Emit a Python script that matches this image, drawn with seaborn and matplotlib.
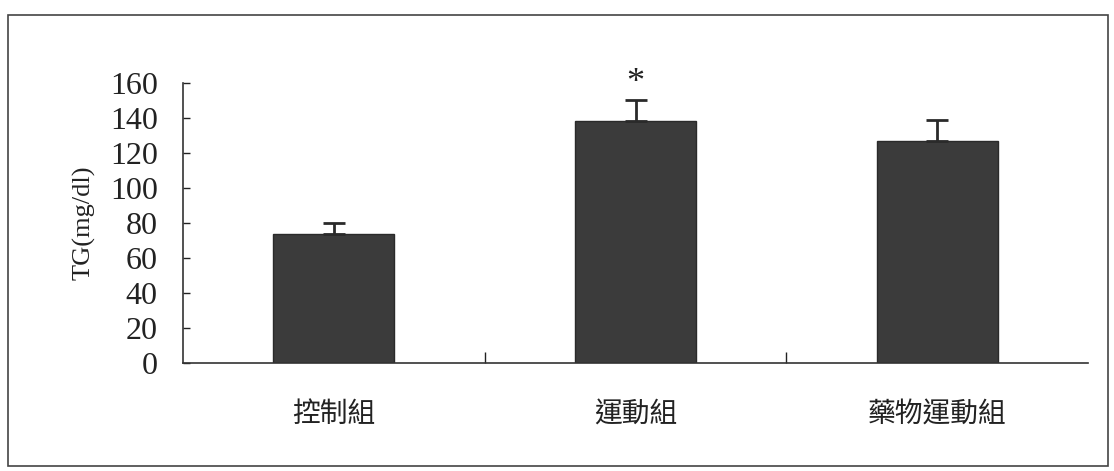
import matplotlib
matplotlib.use("Agg")
import matplotlib.pyplot as plt
import seaborn as sns
import pandas as pd
from matplotlib.patches import Rectangle

groups = ["控制組", "運動組", "藥物運動組"]
tg_mean = [74, 138, 127]
tg_err = [6, 12, 12]
sig_marks = ["", "*", ""]
y_ticks = [0, 20, 40, 60, 80, 100, 120, 140, 160]

sns.set_theme(style="white")
plt.rcParams["font.family"] = ["Liberation Serif", "Noto Sans CJK TC", "DejaVu Sans"]

df = pd.DataFrame({"group": groups, "tg": tg_mean})

fig = plt.figure(figsize=(11.14, 4.71), dpi=100)
ax = fig.add_axes([0.164, 0.229, 0.813, 0.595])

sns.barplot(data=df, x="group", y="tg", color="#3b3b3b", width=0.4,
            saturation=1, errorbar=None, ax=ax, edgecolor="#2a2a2a", linewidth=1)
ax.errorbar(range(len(groups)), tg_mean, yerr=[[0] * len(groups), tg_err],
            fmt="none", ecolor="#2a2a2a", elinewidth=2, capsize=8, capthick=2)
for i, (m, e, s) in enumerate(zip(tg_mean, tg_err, sig_marks)):
    if s:
        ax.text(i, m + e + 0.5, s, ha="center", va="bottom", fontsize=26,
                family="Liberation Serif", color="#222222")

ax.set_ylim(0, 160)
ax.set_xlim(-0.5, len(groups) - 0.5)
ax.set_yticks(y_ticks)
ax.set_yticklabels([str(t) for t in y_ticks], fontsize=23, family="Liberation Serif")
ax.tick_params(axis="y", left=True, direction="in", length=5, width=1, pad=18, colors="#222222")
ax.tick_params(axis="x", which="major", bottom=False, length=0, pad=26)
ax.set_xticks(range(len(groups)))
ax.set_xticklabels(groups, fontsize=20, family=["Noto Sans CJK TC", "DejaVu Sans"], color="#222222")
ax.set_xticks([0.5, 1.5], minor=True)
ax.tick_params(axis="x", which="minor", bottom=True, direction="in", length=8, width=1, colors="#222222")
ax.set_xlabel("")
ax.set_ylabel("TG(mg/dl)", fontsize=19, family="Liberation Serif", color="#222222", labelpad=10)

for side in ["top", "right"]:
    ax.spines[side].set_visible(False)
for side in ["left", "bottom"]:
    ax.spines[side].set_color("#333333")
    ax.spines[side].set_linewidth(1.2)

fig.patches.append(Rectangle((8 / 1114, 1 - 466 / 471), 1100 / 1114, 451 / 471,
                             transform=fig.transFigure, fill=False,
                             edgecolor="#444444", linewidth=1.2))

fig.savefig("out.png", dpi=100)
